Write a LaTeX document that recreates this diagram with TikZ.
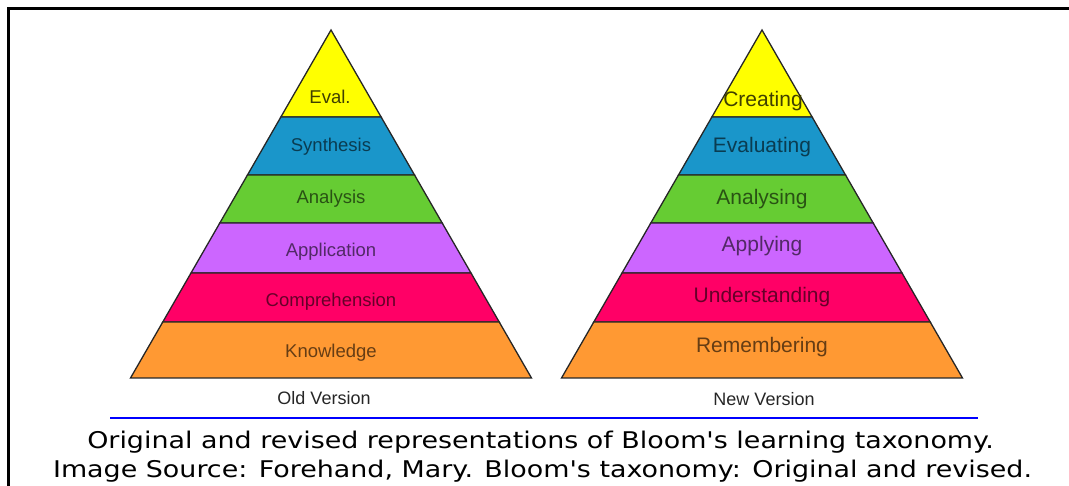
\documentclass[tikz,border=0pt]{standalone}
\usepackage{fontspec}
\setmainfont{Liberation Sans}
\newfontfamily\captionfont[FakeStretch=1.17]{DejaVu Sans}
\usepackage{tikz}

\definecolor{layeryellow}{HTML}{FFFF00}
\definecolor{layerblue}{HTML}{1A96CA}
\definecolor{layergreen}{HTML}{66CC33}
\definecolor{layerpurple}{HTML}{CC66FF}
\definecolor{layerred}{HTML}{FF0066}
\definecolor{layerorange}{HTML}{FF9933}
\definecolor{ruleblue}{HTML}{0000FF}

\begin{document}
\begin{tikzpicture}[x=1pt,y=-1pt,
    layer/.style={draw=black!85,line width=1.3pt,line join=miter},
    oldlabel/.style={anchor=base,inner sep=0pt,font=\fontsize{18.5}{20}\selectfont},
    newlabel/.style={anchor=base,inner sep=0pt,font=\fontsize{21}{23}\selectfont},
    versionlabel/.style={anchor=base,inner sep=0pt,text=black!85,font=\fontsize{18}{20}\selectfont},
    capline/.style={anchor=base,inner sep=0pt,font=\captionfont\fontsize{23}{26}\selectfont}]
    \useasboundingbox (0,0) rectangle (1069,486);
    % frame
    \draw[line width=3pt] (1069,9) -- (8,9) -- (8,486);
    % both pyramids, layer by layer (k = half width per pixel of height)
    \def\k{0.5761}
    \foreach \cx in {331,762} {
        \foreach \top/\bot/\col in {30/117/layeryellow, 117/175/layerblue,
                175/223/layergreen, 223/273/layerpurple,
                273/322/layerred, 322/378/layerorange} {
            \filldraw[layer,fill=\col]
                ({\cx-\k*(\top-30)},\top) -- ({\cx+\k*(\top-30)},\top) --
                ({\cx+\k*(\bot-30)},\bot) -- ({\cx-\k*(\bot-30)},\bot) -- cycle;
        }
    }
    % old version
    \node[oldlabel,text=layeryellow!25!black] (eval) at (330,104) {Eval.};
    \node[oldlabel,text=layerblue!40!black] (synthesis) at (331,152) {Synthesis};
    \node[oldlabel,text=layergreen!40!black] (analysis) at (331,204) {Analysis};
    \node[oldlabel,text=layerpurple!40!black] (application) at (331,257) {Application};
    \node[oldlabel,text=layerred!40!black] (comprehension) at (331,307) {Comprehension};
    \node[oldlabel,text=layerorange!40!black] (knowledge) at (331,358) {Knowledge};
    \node[versionlabel] (oldversion) at (324,405) {Old Version};
    % new version
    \node[newlabel,text=layeryellow!25!black] (creating) at (763,107) {Creating};
    \node[newlabel,text=layerblue!40!black] (evaluating) at (762,153) {Evaluating};
    \node[newlabel,text=layergreen!40!black] (analysing) at (762,205) {Analysing};
    \node[newlabel,text=layerpurple!40!black] (applying) at (762,252) {Applying};
    \node[newlabel,text=layerred!40!black] (understanding) at (762,303) {Understanding};
    \node[newlabel,text=layerorange!40!black] (remembering) at (762,353) {Remembering};
    \node[versionlabel] (newversion) at (764,406) {New Version};
    % rule and caption
    \coordinate (ruleleft) at (110,418);
    \coordinate (ruleright) at (978,418);
    \draw[ruleblue,line width=2pt] (ruleleft) -- (ruleright);
    \node[capline] (capone) at (540.5,449) {Original and revised representations of Bloom's learning taxonomy.};
    \node[capline] (captwo) at (542.5,477) {Image Source: Forehand, Mary. Bloom's taxonomy: Original and revised.};
\end{tikzpicture}
\end{document}
